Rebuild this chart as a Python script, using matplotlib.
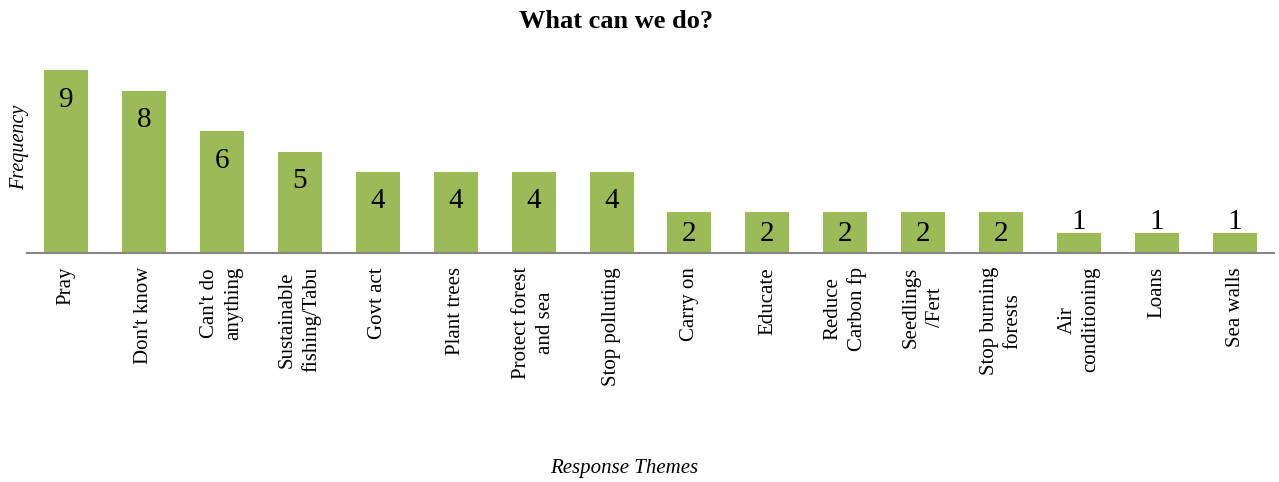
import matplotlib.pyplot as plt
import numpy as np

plt.rcParams['font.family'] = ['Liberation Serif', 'DejaVu Serif']

# response themes and how often each came up
themes = ["Pray", "Don't know", "Can't do\nanything", "Sustainable\nfishing/Tabu",
          "Govt act", "Plant trees", "Protect forest\nand sea", "Stop polluting",
          "Carry on", "Educate", "Reduce\nCarbon fp", "Seedlings\n/Fert",
          "Stop burning\nforests", "Air\nconditioning", "Loans", "Sea walls"]
counts = [9, 8, 6, 5, 4, 4, 4, 4, 2, 2, 2, 2, 2, 1, 1, 1]

fig = plt.figure(figsize=(12.79, 4.82), dpi=100)
ax = fig.add_axes([0.0211, 0.475, 0.975, 0.40])

x = np.arange(len(themes))
bars = ax.bar(x, counts, width=0.565, color='#9BBB59', zorder=2)

ax.set_xlim(-0.5, len(themes) - 0.5)
ax.set_ylim(0, 9.5)

# numbers sit inside the bar top, or just above the short ones
for rect, c in zip(bars, counts):
    cx = rect.get_x() + rect.get_width() / 2
    if c >= 2:
        ax.text(cx, max(c - 0.8, c / 2 + 0.56), str(c), ha='center', va='top',
                fontsize=21)
    else:
        ax.text(cx, c - 0.1, str(c), ha='center', va='bottom', fontsize=21)

ax.set_xticks(x)
ax.set_xticklabels(themes, rotation=90, ha='center', va='top',
                   multialignment='center', fontsize=15, linespacing=1.35)
ax.tick_params(axis='x', length=0, pad=10)
ax.set_yticks([])

for s in ['top', 'right', 'left']:
    ax.spines[s].set_visible(False)
ax.spines['bottom'].set_color('#868686')
ax.spines['bottom'].set_linewidth(1.5)

fig.text(0.482, 0.955, "What can we do?", ha='center', va='center',
         fontsize=19, fontweight='bold')
fig.text(0.015, 0.695, "Frequency", ha='center', va='center', rotation=90,
         fontsize=14.5, style='italic')
fig.text(0.488, 0.028, "Response Themes", ha='center', va='center',
         fontsize=15, style='italic')

fig.savefig('out.png', dpi=100)
